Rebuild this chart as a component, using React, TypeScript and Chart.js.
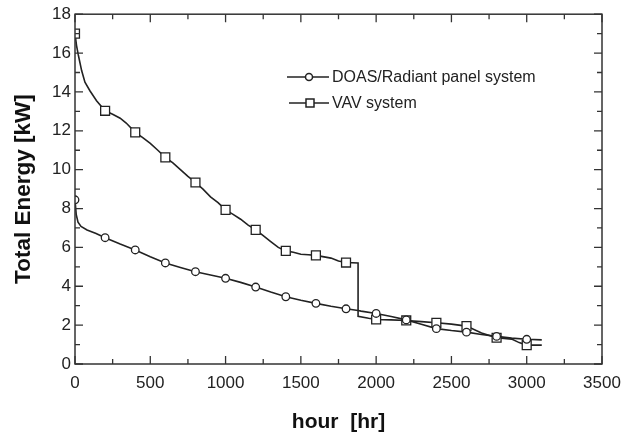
import React, { useEffect, useRef } from "react";
import { Chart, registerables } from "chart.js";

Chart.register(...registerables);

// ---- data ----
const doasHours = [0, 8, 20, 40, 80, 140, 200, 300, 400, 500, 600, 700, 800, 900, 1000, 1100, 1200, 1300, 1400, 1500, 1600, 1700, 1800, 1880, 1900, 2000, 2100, 2200, 2300, 2400, 2500, 2600, 2700, 2800, 2900, 3000, 3100];
const doasKW = [8.45, 7.7, 7.3, 7.08, 6.9, 6.72, 6.5, 6.17, 5.87, 5.52, 5.2, 4.97, 4.75, 4.58, 4.41, 4.2, 3.96, 3.7, 3.46, 3.28, 3.12, 2.97, 2.84, 2.75, 2.72, 2.6, 2.44, 2.27, 2.04, 1.82, 1.72, 1.64, 1.52, 1.42, 1.33, 1.27, 1.24];

const vavHours = [0, 10, 22, 44, 66, 100, 143, 200, 250, 300, 340, 400, 450, 500, 550, 600, 650, 700, 750, 800, 850, 900, 950, 1000, 1050, 1100, 1150, 1200, 1250, 1300, 1350, 1400, 1450, 1500, 1550, 1600, 1700, 1750, 1800, 1880, 1880, 1950, 2000, 2100, 2200, 2300, 2400, 2500, 2600, 2700, 2800, 2900, 2950, 3000, 3100];
const vavKW = [17.0, 16.4, 15.9, 15.1, 14.5, 14.05, 13.55, 13.03, 12.85, 12.65, 12.4, 11.92, 11.65, 11.35, 11.0, 10.63, 10.35, 10.0, 9.65, 9.34, 9.0, 8.6, 8.3, 7.93, 7.7, 7.45, 7.15, 6.9, 6.6, 6.3, 6.0, 5.82, 5.75, 5.65, 5.62, 5.59, 5.45, 5.3, 5.22, 5.2, 2.45, 2.35, 2.29, 2.27, 2.24, 2.18, 2.12, 2.05, 1.95, 1.6, 1.35, 1.28, 1.1, 0.97, 0.97];

const seriesNames = ["DOAS/Radiant panel system", "VAV system"];
const xTickValues = [0, 500, 1000, 1500, 2000, 2500, 3000, 3500];
const yTickValues = [0, 2, 4, 6, 8, 10, 12, 14, 16, 18];
const markerStep = 200;
const markerLast = 3000;

const FONT = "'Liberation Sans', Arial, Helvetica, sans-serif";
const INK = "#222";

const toPoints = (xs: number[], ys: number[]) => xs.map((x, i) => ({ x, y: ys[i] }));

const framePlugin = {
  id: "frameTicks",
  afterDraw(chart: any) {
    const { ctx, chartArea: a, scales } = chart;
    const xs = scales.x;
    const ys = scales.y;
    ctx.save();
    ctx.strokeStyle = "#333";
    ctx.lineWidth = 1.5;
    ctx.strokeRect(a.left, a.top, a.right - a.left, a.bottom - a.top);
    ctx.lineWidth = 1.3;
    ctx.beginPath();
    for (let v = 0; v <= 3500; v += 250) {
      const px = xs.getPixelForValue(v);
      const len = v % 500 === 0 ? 8 : 5;
      ctx.moveTo(px, a.bottom);
      ctx.lineTo(px, a.bottom - len);
      ctx.moveTo(px, a.top);
      ctx.lineTo(px, a.top + len);
    }
    for (let v = 0; v <= 18; v += 1) {
      const py = ys.getPixelForValue(v);
      const len = v % 2 === 0 ? 8 : 5;
      ctx.moveTo(a.left, py);
      ctx.lineTo(a.left + len, py);
      ctx.moveTo(a.right, py);
      ctx.lineTo(a.right - len, py);
    }
    ctx.stroke();

    // legend
    const rows = [
      { y: 77, x0: 287, x1: 329, style: "circle" },
      { y: 103, x0: 289, x1: 329, style: "rect" },
    ];
    ctx.font = "16px " + FONT;
    ctx.textBaseline = "middle";
    ctx.fillStyle = INK;
    rows.forEach((r, i) => {
      ctx.strokeStyle = INK;
      ctx.lineWidth = 1.5;
      ctx.beginPath();
      ctx.moveTo(r.x0, r.y);
      ctx.lineTo(r.x1, r.y);
      ctx.stroke();
      const cx = (r.x0 + r.x1) / 2 + 1;
      ctx.fillStyle = "#fff";
      ctx.beginPath();
      if (r.style === "circle") {
        ctx.arc(cx, r.y, 3.5, 0, Math.PI * 2);
      } else {
        ctx.rect(cx - 4, r.y - 4, 8, 8);
      }
      ctx.fill();
      ctx.stroke();
      ctx.fillStyle = INK;
      ctx.fillText(seriesNames[i], 332, r.y + 1);
    });
    ctx.restore();
  },
};

export default function App() {
  const ref = useRef<HTMLCanvasElement | null>(null);
  useEffect(() => {
    if (!ref.current) return;
    const isMarker = (ctx: any) => {
      const raw = ctx.raw;
      if (!raw) return false;
      return raw.x % markerStep === 0 && raw.x <= markerLast;
    };
    const chart = new Chart(ref.current, {
      type: "line",
      data: {
        datasets: [
          {
            label: seriesNames[0],
            data: toPoints(doasHours, doasKW),
            borderColor: INK,
            borderWidth: 1.6,
            backgroundColor: "#fff",
            pointStyle: "circle",
            pointRadius: (c: any) => (isMarker(c) ? 3.8 : 0),
            pointBorderWidth: 1.3,
            pointBorderColor: INK,
            pointBackgroundColor: "#fff",
            tension: 0,
          },
          {
            label: seriesNames[1],
            data: toPoints(vavHours, vavKW),
            borderColor: INK,
            borderWidth: 1.6,
            backgroundColor: "#fff",
            pointStyle: "rect",
            pointRadius: (c: any) => (isMarker(c) ? 6.3 : 0),
            pointBorderWidth: 1.3,
            pointBorderColor: INK,
            pointBackgroundColor: "#fff",
            tension: 0,
          },
        ],
      },
      options: {
        animation: false,
        responsive: false,
        layout: { padding: { top: 14, right: 28, left: 0, bottom: 0 } },
        plugins: { legend: { display: false }, tooltip: { enabled: false } },
        scales: {
          x: {
            type: "linear",
            min: 0,
            max: 3500,
            grid: { display: false, drawTicks: false },
            border: { display: false },
            afterFit: (s: any) => {
              s.height = 69;
            },
            afterBuildTicks: (s: any) => {
              s.ticks = xTickValues.map((v) => ({ value: v }));
            },
            ticks: {
              color: INK,
              padding: 9,
              maxRotation: 0,
              font: { family: FONT, size: 17 },
              callback: (v: any) => String(v),
            },
            title: {
              display: true,
              text: "hour  [hr]",
              color: "#111",
              font: { family: FONT, size: 21, weight: "bold", lineHeight: 1 },
              padding: { top: 0, bottom: 0 },
            },
          },
          y: {
            type: "linear",
            min: 0,
            max: 18,
            grid: { display: false, drawTicks: false },
            border: { display: false },
            afterFit: (s: any) => {
              s.width = 75;
            },
            afterBuildTicks: (s: any) => {
              s.ticks = yTickValues.map((v) => ({ value: v }));
            },
            ticks: {
              color: INK,
              padding: 4,
              font: { family: FONT, size: 17 },
              callback: (v: any) => String(v),
            },
            title: {
              display: true,
              text: "Total Energy [kW]",
              color: "#111",
              font: { family: FONT, size: 22.5, weight: "bold" },
              padding: { top: 10, bottom: 0 },
            },
          },
        },
      },
      plugins: [framePlugin],
    } as any);
    return () => chart.destroy();
  }, []);
  return (
    <div style={{ position: "absolute", left: 0, top: 0, width: 630, height: 433, background: "#fff" }}>
      <canvas ref={ref} width={630} height={433} style={{ display: "block" }} />
    </div>
  );
}
